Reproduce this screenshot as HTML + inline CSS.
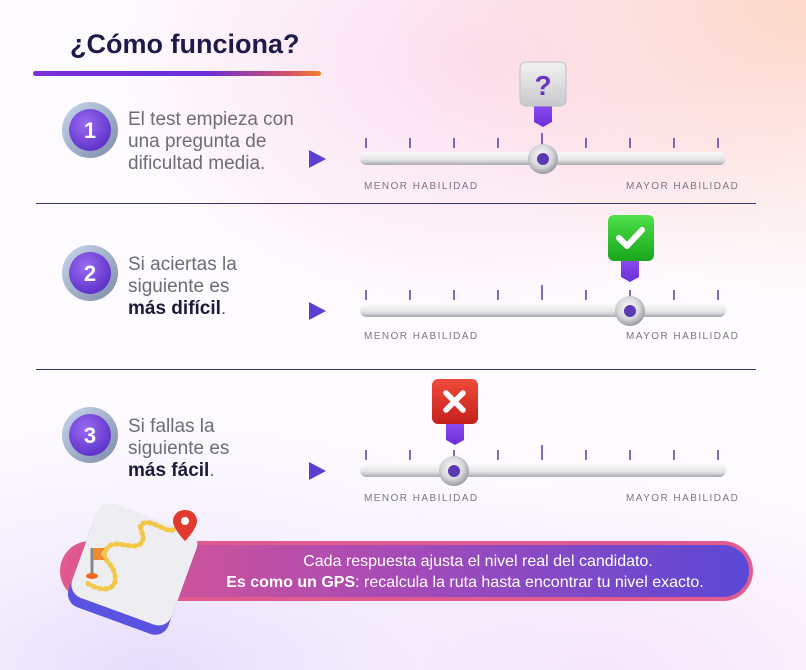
<!DOCTYPE html>
<html><head><meta charset="utf-8"><style>
html,body{margin:0;padding:0}
body{width:806px;height:670px;overflow:hidden;position:relative;font-family:"Liberation Sans",sans-serif;
background:
radial-gradient(ellipse 420px 300px at 806px 0px,#fdd9c8 0%,rgba(253,217,210,0.6) 45%,rgba(255,255,255,0) 100%),
radial-gradient(ellipse 380px 260px at 480px 60px,rgba(252,214,236,0.8) 0%,rgba(255,255,255,0) 100%),
radial-gradient(ellipse 520px 260px at 150px 670px,#e6defc 0%,rgba(238,230,252,0.5) 50%,rgba(255,255,255,0) 100%),
radial-gradient(ellipse 420px 200px at 600px 670px,#f6e6fb 0%,rgba(255,255,255,0) 100%),
#fdfbfe;}
.t{position:absolute;white-space:nowrap}
.row{position:absolute;left:128px;font-size:19px;line-height:22px;color:#6e6c78}
.row b{color:#1d1b3a}
.lab{position:absolute;font-size:10px;letter-spacing:1.45px;color:#7a7680}
</style></head><body>
<div class="t" style="left:70px;top:29px;font-size:27px;font-weight:bold;color:#1e1b4b">¿Cómo funciona?</div>
<div style="position:absolute;left:33px;top:71px;width:288px;height:5px;border-radius:3px;background:linear-gradient(90deg,#7b2fd8,#6b2ed9 60%,#d14f6a 88%,#f47f2a)"></div>

<div class="row" style="top:109px">El test empieza con<br>una pregunta de<br>dificultad media.</div>
<div class="row" style="top:254px">Si aciertas la<br>siguiente es<br><b>más difícil</b>.</div>
<div class="row" style="top:416px">Si fallas la<br>siguiente es<br><b>más fácil</b>.</div>

<div style="position:absolute;left:36px;top:203px;width:720px;height:1px;background:#3a3470"></div>
<div style="position:absolute;left:36px;top:369px;width:720px;height:1px;background:#3a3470"></div>

<div class="lab" style="left:364px;top:181px">MENOR HABILIDAD</div>
<div class="lab" style="left:626px;top:181px">MAYOR HABILIDAD</div>
<div class="lab" style="left:364px;top:331px">MENOR HABILIDAD</div>
<div class="lab" style="left:626px;top:331px">MAYOR HABILIDAD</div>
<div class="lab" style="left:364px;top:493px">MENOR HABILIDAD</div>
<div class="lab" style="left:626px;top:493px">MAYOR HABILIDAD</div>

<svg width="806" height="670" style="position:absolute;left:0;top:0" xmlns="http://www.w3.org/2000/svg">
<defs>
<linearGradient id="trk" x1="0" y1="0" x2="0" y2="1"><stop offset="0" stop-color="#fafafa"/><stop offset="0.6" stop-color="#e4e4e6"/><stop offset="1" stop-color="#a9a9ae"/></linearGradient>
<radialGradient id="knob" cx="0.45" cy="0.4" r="0.6"><stop offset="0" stop-color="#ffffff"/><stop offset="0.6" stop-color="#d8d8dc"/><stop offset="1" stop-color="#9a9aa2"/></radialGradient>
<radialGradient id="circ" cx="0.4" cy="0.35" r="0.7"><stop offset="0" stop-color="#9b6cf2"/><stop offset="1" stop-color="#5a2fc7"/></radialGradient>
<linearGradient id="ring" x1="0" y1="0" x2="1" y2="1"><stop offset="0" stop-color="#c8d8ee"/><stop offset="1" stop-color="#7e8aa8"/></linearGradient>
<linearGradient id="gray" x1="0" y1="0" x2="0" y2="1"><stop offset="0" stop-color="#f2f2f2"/><stop offset="1" stop-color="#c9c9cc"/></linearGradient>
<linearGradient id="green" x1="0" y1="0" x2="0" y2="1"><stop offset="0" stop-color="#4ee04a"/><stop offset="1" stop-color="#19a61c"/></linearGradient>
<linearGradient id="red" x1="0" y1="0" x2="0" y2="1"><stop offset="0" stop-color="#f04a3c"/><stop offset="1" stop-color="#c5211c"/></linearGradient>
<linearGradient id="ban" x1="0" y1="0" x2="1" y2="0"><stop offset="0" stop-color="#e0588c"/><stop offset="0.5" stop-color="#a54ab8"/><stop offset="1" stop-color="#5a48d6"/></linearGradient>
<linearGradient id="pin" x1="0" y1="0" x2="0" y2="1"><stop offset="0" stop-color="#8a4bf0"/><stop offset="1" stop-color="#6a2fd6"/></linearGradient>
</defs>

<g font-family="Liberation Sans" font-weight="bold" font-size="22" fill="#fff" text-anchor="middle">
<circle cx="90" cy="130" r="28" fill="url(#ring)"/><circle cx="90" cy="130" r="21" fill="url(#circ)"/><text x="90" y="138">1</text>
<circle cx="90" cy="273" r="28" fill="url(#ring)"/><circle cx="90" cy="273" r="21" fill="url(#circ)"/><text x="90" y="281">2</text>
<circle cx="90" cy="435" r="28" fill="url(#ring)"/><circle cx="90" cy="435" r="21" fill="url(#circ)"/><text x="90" y="443">3</text>
</g>
<g fill="#5b3fd0">
<polygon points="309,150 326,159 309,168"/>
<polygon points="309,302 326,311 309,320"/>
<polygon points="309,462 326,471 309,480"/>
</g>

<g id="s1">
<g stroke="#5b3aa8" stroke-width="1.5">
<line x1="366" y1="138" x2="366" y2="148"/><line x1="410" y1="138" x2="410" y2="148"/><line x1="454" y1="138" x2="454" y2="148"/><line x1="498" y1="138" x2="498" y2="148"/><line x1="542" y1="133" x2="542" y2="148"/><line x1="586" y1="138" x2="586" y2="148"/><line x1="630" y1="138" x2="630" y2="148"/><line x1="674" y1="138" x2="674" y2="148"/><line x1="718" y1="138" x2="718" y2="148"/>
</g>
<rect x="360" y="152" width="366" height="13" rx="6.5" fill="url(#trk)"/>
</g>
<use href="#s1" y="152"/>
<use href="#s1" y="312"/>

<circle cx="543" cy="159" r="15" fill="url(#knob)"/><circle cx="543" cy="159" r="6" fill="#5b3bb5"/>
<circle cx="630" cy="311" r="15" fill="url(#knob)"/><circle cx="630" cy="311" r="6" fill="#5b3bb5"/>
<circle cx="454" cy="471" r="15" fill="url(#knob)"/><circle cx="454" cy="471" r="6" fill="#5b3bb5"/>

<path d="M534,106 h18 v16 l-9,5 l-9,-5z" fill="url(#pin)"/>
<rect x="520" y="62" width="46" height="44" rx="6" fill="url(#gray)" stroke="#c0c0c4"/>
<text x="543" y="95" text-anchor="middle" font-family="Liberation Sans" font-weight="bold" font-size="28" fill="#6a35c0">?</text>

<path d="M621,261 h18 v16 l-9,5 l-9,-5z" fill="url(#pin)"/>
<rect x="608" y="215" width="46" height="46" rx="6" fill="url(#green)"/>
<path d="M619,238 l8,8 l15,-16" stroke="#fff" stroke-width="6" fill="none" stroke-linecap="round" stroke-linejoin="round"/>

<path d="M446,424 h18 v16 l-9,5 l-9,-5z" fill="url(#pin)"/>
<rect x="432" y="379" width="46" height="45" rx="6" fill="url(#red)"/>
<path d="M446,393 l17,17 M463,393 l-17,17" stroke="#fff" stroke-width="5.5" stroke-linecap="round"/>

<rect x="60" y="541" width="693" height="60" rx="30" fill="#e15b8f"/>
<rect x="64" y="545" width="685" height="52" rx="26" fill="url(#ban)"/>

<g transform="rotate(20 133 568)">
<rect x="80" y="524" width="106" height="100" rx="14" fill="#5a52e0"/>
<rect x="80" y="514" width="106" height="100" rx="14" fill="#eeeef2"/>
<path d="M96,598 c20,4 30,-6 22,-18 c-8,-12 -20,-8 -16,-22 c4,-12 26,-6 30,-16 c4,-10 -12,-14 -4,-20 c8,-6 24,2 30,-4" stroke="#f2c84a" stroke-width="5" fill="none" stroke-dasharray="2 4" stroke-linecap="round"/>
</g>
<path d="M185,510 c-8,0 -12,6 -12,11 c0,8 12,20 12,20 c0,0 12,-12 12,-20 c0,-5 -4,-11 -12,-11z" fill="#e03a2e"/>
<circle cx="185" cy="521" r="4" fill="#fff"/>
<line x1="92" y1="548" x2="92" y2="575" stroke="#888" stroke-width="3"/>
<path d="M93,548 h12 l-4,6 l4,6 h-12z" fill="#f08a30"/>
<ellipse cx="92" cy="576" rx="6" ry="3" fill="#f06a20"/>

<g font-family="Liberation Sans" font-size="16" fill="#fff" text-anchor="middle">
<text x="478" y="566">Cada respuesta ajusta el nivel real del candidato.</text>
<text x="465" y="587"><tspan font-weight="bold">Es como un GPS</tspan>: recalcula la ruta hasta encontrar tu nivel exacto.</text>
</g>
</svg>
</body></html>
